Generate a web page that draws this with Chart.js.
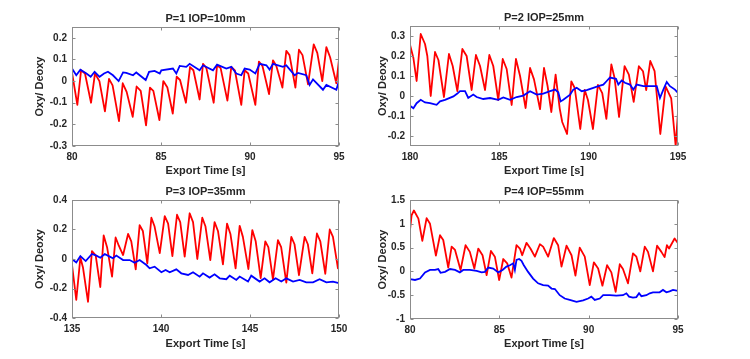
<!DOCTYPE html>
<html>
<head>
<meta charset="utf-8">
<script src="https://cdn.jsdelivr.net/npm/chart.js@4.4.0/dist/chart.umd.min.js"></script>
<style>
  html, body { margin: 0; padding: 0; background: #fff; }
  #wrap { position: relative; width: 750px; height: 359px; overflow: hidden; }
  canvas { position: absolute; }
</style>
</head>
<body>
<div id="wrap">
  <canvas id="c1" width="375" height="180" style="left:0;top:0"></canvas>
  <canvas id="c2" width="375" height="180" style="left:375px;top:0"></canvas>
  <canvas id="c3" width="375" height="179" style="left:0;top:180px"></canvas>
  <canvas id="c4" width="375" height="179" style="left:375px;top:180px"></canvas>
</div>
<script>
// [time s, value]
const p1Oxy = [[80.00,0.04],[80.30,-0.11],[80.51,0.05],[80.73,0.035],[81.07,-0.10],[81.29,0.035],[81.54,0.0],[81.85,-0.14],[82.08,0.01],[82.28,-0.02],[82.64,-0.185],[82.85,-0.01],[83.07,-0.05],[83.41,-0.165],[83.63,-0.025],[83.86,-0.045],[84.16,-0.205],[84.38,-0.03],[84.57,-0.045],[84.91,-0.18],[85.13,0.0],[85.36,-0.03],[85.66,-0.15],[85.88,0.02],[86.07,0.005],[86.40,-0.10],[86.63,0.065],[86.82,0.05],[87.17,-0.085],[87.36,0.08],[87.55,0.06],[87.96,-0.10],[88.15,0.073],[88.35,0.06],[88.73,-0.09],[88.95,0.066],[89.15,0.05],[89.51,-0.11],[89.70,0.05],[89.90,0.035],[90.30,-0.11],[90.50,0.09],[90.70,0.07],[91.07,-0.06],[91.29,0.096],[91.48,0.07],[91.82,-0.03],[92.04,0.14],[92.22,0.12],[92.55,-0.03],[92.75,0.145],[92.95,0.12],[93.26,-0.015],[93.58,0.17],[93.78,0.13],[94.06,0.0],[94.29,0.157],[94.50,0.11],[94.85,-0.01],[95.00,0.10]];
const p1Deoxy = [[80.00,0.058],[80.24,0.027],[80.47,0.053],[80.81,0.035],[81.05,0.02],[81.27,0.043],[81.55,0.02],[81.80,0.035],[82.02,0.043],[82.30,0.027],[82.62,0.0],[82.87,0.04],[83.05,0.038],[83.43,0.027],[83.61,0.04],[84.14,0.005],[84.33,0.043],[84.64,0.047],[84.93,0.035],[85.02,0.05],[85.67,0.058],[85.86,0.035],[86.05,0.07],[86.42,0.066],[86.61,0.08],[87.17,0.05],[87.36,0.073],[87.92,0.05],[88.15,0.076],[88.67,0.058],[88.95,0.066],[89.23,0.035],[89.51,0.027],[89.70,0.058],[89.98,0.053],[90.30,0.035],[90.54,0.08],[90.92,0.073],[91.10,0.053],[91.29,0.08],[91.85,0.066],[92.04,0.073],[92.51,0.027],[92.70,0.038],[93.16,0.027],[93.35,-0.018],[93.54,0.008],[94.10,-0.04],[94.29,-0.018],[94.85,-0.04],[95.00,0.0]];

const p2Oxy = [[180.00,0.256],[180.19,0.19],[180.37,0.075],[180.60,0.31],[180.84,0.26],[180.97,0.2],[181.16,0.0],[181.40,0.22],[181.59,0.18],[181.90,-0.005],[182.18,0.21],[182.39,0.15],[182.65,0.024],[182.93,0.235],[183.17,0.2],[183.45,0.03],[183.69,0.205],[183.92,0.15],[184.20,0.03],[184.44,0.205],[184.66,0.15],[184.94,-0.02],[185.19,0.185],[185.41,0.135],[185.69,-0.045],[185.93,0.185],[186.16,0.1],[186.47,-0.06],[186.72,0.14],[186.94,0.083],[187.28,-0.066],[187.50,0.14],[187.70,0.05],[187.91,-0.08],[188.15,0.107],[188.38,-0.063],[188.52,-0.13],[188.79,-0.19],[189.03,0.073],[189.22,0.04],[189.53,-0.165],[189.78,0.03],[189.96,-0.02],[190.24,-0.165],[190.52,0.056],[190.76,0.014],[190.99,-0.114],[191.27,0.158],[191.45,0.09],[191.70,-0.105],[192.01,0.149],[192.25,0.107],[192.52,-0.029],[192.81,0.149],[193.04,0.124],[193.22,0.03],[193.45,0.175],[193.69,0.124],[194.01,-0.19],[194.31,0.047],[194.62,-0.012],[194.87,-0.25],[195.00,-0.08]];
const p2Deoxy = [[180.00,-0.049],[180.19,-0.061],[180.37,-0.036],[180.60,-0.019],[180.84,-0.032],[181.12,-0.036],[181.49,-0.044],[181.68,-0.027],[181.96,-0.019],[182.43,-0.002],[182.65,0.012],[182.80,0.024],[183.08,0.024],[183.26,-0.01],[183.54,0.007],[183.73,-0.005],[184.10,-0.015],[184.48,-0.01],[184.94,-0.019],[185.22,-0.007],[185.60,-0.019],[185.97,-0.005],[186.34,0.002],[186.72,0.024],[187.09,0.007],[187.46,0.012],[187.84,0.024],[188.12,0.032],[188.30,0.019],[188.43,-0.027],[188.58,-0.019],[188.96,0.007],[189.14,0.032],[189.33,0.041],[189.61,0.024],[189.89,0.029],[190.26,0.041],[190.54,0.049],[190.82,0.057],[191.01,0.075],[191.19,0.092],[191.53,0.086],[191.66,0.057],[191.85,0.078],[192.03,0.066],[192.31,0.057],[192.50,0.032],[192.69,0.057],[193.06,0.049],[193.43,0.049],[193.81,0.049],[193.99,-0.01],[194.18,0.032],[194.37,0.07],[194.55,0.049],[194.83,0.032],[195.00,0.015]];

const p3Oxy = [[135.00,-0.04],[135.24,-0.277],[135.47,0.01],[135.62,-0.06],[135.90,-0.29],[136.12,0.054],[136.33,0.025],[136.59,-0.19],[136.78,0.16],[136.97,0.08],[137.25,-0.12],[137.45,0.146],[137.63,0.09],[137.87,0.027],[138.15,0.17],[138.33,0.12],[138.58,-0.07],[138.80,0.23],[138.98,0.19],[139.23,-0.03],[139.46,0.28],[139.64,0.22],[139.93,0.04],[140.21,0.29],[140.40,0.24],[140.64,0.02],[140.90,0.30],[141.08,0.25],[141.33,0.016],[141.61,0.31],[141.80,0.25],[142.04,0.0],[142.32,0.28],[142.50,0.22],[142.77,-0.007],[143.01,0.25],[143.20,0.19],[143.48,-0.036],[143.71,0.24],[143.90,0.17],[144.19,-0.063],[144.42,0.225],[144.60,0.15],[144.91,-0.068],[145.13,0.196],[145.32,0.12],[145.60,-0.13],[145.86,0.12],[146.03,0.08],[146.29,-0.14],[146.57,0.128],[146.75,0.08],[147.04,-0.16],[147.32,0.15],[147.50,0.10],[147.75,-0.11],[148.07,0.15],[148.25,0.10],[148.50,-0.097],[148.76,0.173],[148.95,0.12],[149.23,-0.10],[149.48,0.2],[149.66,0.15],[149.94,-0.063],[150.00,0.0]];
const p3Deoxy = [[135.00,0.0],[135.24,-0.023],[135.47,0.02],[135.77,-0.014],[136.12,0.034],[136.37,0.023],[136.59,0.009],[136.84,0.034],[137.12,0.016],[137.30,0.005],[137.49,0.023],[137.87,-0.007],[138.24,-0.007],[138.52,-0.025],[138.80,-0.007],[139.18,-0.041],[139.36,-0.063],[139.64,-0.052],[140.02,-0.09],[140.26,-0.074],[140.49,-0.09],[140.86,-0.07],[141.14,-0.097],[141.52,-0.108],[141.80,-0.09],[142.17,-0.12],[142.36,-0.097],[142.73,-0.126],[143.01,-0.104],[143.30,-0.131],[143.67,-0.137],[143.86,-0.113],[144.23,-0.142],[144.42,-0.119],[144.89,-0.153],[145.07,-0.113],[145.54,-0.153],[145.82,-0.131],[146.10,-0.158],[146.44,-0.131],[146.76,-0.153],[147.04,-0.131],[147.42,-0.153],[147.79,-0.142],[148.16,-0.158],[148.54,-0.158],[148.91,-0.137],[149.29,-0.158],[149.66,-0.153],[150.00,-0.164]];

const p4Oxy = [[80.00,0.87],[80.09,1.18],[80.22,1.28],[80.47,1.11],[80.69,0.64],[80.93,1.12],[81.12,1.0],[81.45,0.33],[81.68,0.76],[81.86,0.66],[82.14,0.08],[82.33,0.52],[82.52,0.45],[82.83,0.03],[83.11,0.55],[83.35,0.41],[83.60,0.06],[83.82,0.48],[84.06,0.34],[84.29,-0.08],[84.53,0.43],[84.75,0.31],[84.99,-0.18],[85.22,0.26],[85.44,0.17],[85.68,-0.13],[85.96,0.55],[86.15,0.48],[86.28,0.34],[86.52,0.6],[86.74,0.48],[86.99,0.31],[87.27,0.57],[87.45,0.52],[87.73,0.31],[88.05,0.7],[88.29,0.55],[88.48,0.1],[88.76,0.54],[89.04,0.34],[89.26,-0.09],[89.50,0.5],[89.78,0.31],[90.06,-0.29],[90.29,0.19],[90.53,0.06],[90.77,-0.3],[91.03,0.13],[91.27,-0.02],[91.51,-0.43],[91.74,0.15],[91.92,0.05],[92.20,-0.25],[92.48,0.38],[92.67,0.31],[92.89,0.0],[93.14,0.52],[93.32,0.41],[93.60,0.0],[93.83,0.54],[94.07,0.41],[94.25,0.3],[94.38,0.55],[94.50,0.48],[94.81,0.69],[95.00,0.59]];
const p4Deoxy = [[80.00,-0.16],[80.28,-0.18],[80.56,-0.15],[80.84,-0.02],[81.12,0.03],[81.40,0.03],[81.58,0.05],[81.71,-0.03],[81.96,-0.01],[82.24,0.05],[82.52,0.03],[82.79,-0.02],[82.98,0.03],[83.35,0.03],[83.73,0.01],[84.01,-0.02],[84.19,-0.01],[84.38,0.08],[84.66,0.06],[84.94,-0.02],[85.18,0.03],[85.40,0.1],[85.59,0.13],[85.78,0.17],[85.87,0.03],[85.96,0.24],[86.11,0.26],[86.24,0.22],[86.37,0.13],[86.61,-0.01],[86.89,-0.15],[87.17,-0.25],[87.45,-0.29],[87.73,-0.3],[87.92,-0.36],[88.11,-0.37],[88.38,-0.5],[88.66,-0.57],[88.94,-0.6],[89.32,-0.64],[89.69,-0.61],[89.97,-0.57],[90.15,-0.53],[90.34,-0.6],[90.62,-0.57],[90.81,-0.5],[91.18,-0.5],[91.55,-0.51],[91.92,-0.5],[92.11,-0.46],[92.26,-0.53],[92.48,-0.55],[92.67,-0.54],[92.82,-0.46],[92.95,-0.52],[93.23,-0.5],[93.42,-0.46],[93.60,-0.44],[93.97,-0.44],[94.16,-0.39],[94.35,-0.44],[94.53,-0.42],[94.72,-0.39],[95.00,-0.41]];

const titles = ['P=1 IOP=10mm', 'P=2 IOP=25mm', 'P=3 IOP=35mm', 'P=4 IOP=55mm'];
const p1XTicks = [80, 85, 90, 95];
const p2XTicks = [180, 185, 190, 195];
const p3XTicks = [135, 140, 145, 150];
const p4XTicks = [80, 85, 90, 95];
const p1YTicks = [-0.3, -0.2, -0.1, 0, 0.1, 0.2];
const p2YTicks = [-0.2, -0.1, 0, 0.1, 0.2, 0.3];
const p3YTicks = [-0.4, -0.2, 0, 0.2, 0.4];
const p4YTicks = [-1, -0.5, 0, 0.5, 1, 1.5];
const yLimits = [[-0.3, 0.25], [-0.25, 0.35], [-0.4, 0.4], [-1, 1.5]];

const FONT = '"Liberation Sans", Arial, Helvetica, sans-serif';
const TXT = '#262626';
const AXIS = '#8c8c8c';

// frame box, inward tick marks on all four sides and the panel title
const framePlugin = {
  id: 'frame',
  afterDatasetsDraw(chart, args, opts) {
    const { ctx, chartArea: a, scales } = chart;
    const L = Math.round(a.left) + 0.5, R = Math.round(a.right) - 0.5;
    const T = Math.round(a.top) + 0.5, B = Math.round(a.bottom) - 0.5;
    ctx.save();
    ctx.strokeStyle = AXIS;
    ctx.lineWidth = 1;
    ctx.beginPath();
    scales.x.ticks.forEach((t) => {
      const px = Math.round(scales.x.getPixelForValue(t.value)) + 0.5;
      ctx.moveTo(px, B); ctx.lineTo(px, B - 3);
      ctx.moveTo(px, T); ctx.lineTo(px, T + 3);
    });
    scales.y.ticks.forEach((t) => {
      const py = Math.round(scales.y.getPixelForValue(t.value)) + 0.5;
      ctx.moveTo(L, py); ctx.lineTo(L + 3, py);
      ctx.moveTo(R, py); ctx.lineTo(R - 3, py);
    });
    ctx.stroke();
    ctx.strokeRect(L, T, R - L, B - T);
    ctx.fillStyle = TXT;
    ctx.font = 'bold 11px ' + FONT;
    ctx.textAlign = 'center';
    ctx.textBaseline = 'middle';
    ctx.fillText(opts.text, (a.left + a.right) / 2, a.top - 8.5);
    ctx.restore();
  },
};

function fmt(v) {
  return String(Number(v.toFixed(2)));
}

function makePanel(id, title, oxy, deoxy, xTicks, yTicks, yLim, g) {
  const ctx = document.getElementById(id).getContext('2d');
  new Chart(ctx, {
    type: 'line',
    data: {
      datasets: [
        {
          label: 'Deoxy',
          data: deoxy.map((p) => ({ x: p[0], y: p[1] })),
          borderColor: '#0000ff',
          borderWidth: 1.8,
          pointRadius: 0,
          tension: 0,
          order: 0,
        },
        {
          label: 'Oxy',
          data: oxy.map((p) => ({ x: p[0], y: p[1] })),
          borderColor: '#ff0000',
          borderWidth: 1.8,
          pointRadius: 0,
          tension: 0,
          borderJoinStyle: 'round',
          order: 1,
        },
      ],
    },
    options: {
      responsive: false,
      animation: false,
      events: [],
      layout: { padding: { left: 0, top: g.top, right: g.right, bottom: 0 } },
      plugins: {
        legend: { display: false },
        tooltip: { enabled: false },
        frame: { text: title },
      },
      scales: {
        x: {
          type: 'linear',
          min: xTicks[0],
          max: xTicks[xTicks.length - 1],
          afterBuildTicks: (s) => { s.ticks = xTicks.map((v) => ({ value: v })); },
          afterFit: (s) => { s.height = g.xh; },
          grid: { display: false, drawTicks: false },
          border: { display: false },
          ticks: { autoSkip: false, maxRotation: 0, padding: 5, color: TXT, font: { family: FONT, size: 10, weight: 'bold' } },
          title: { display: true, text: 'Export Time [s]', color: TXT, padding: { top: 0, bottom: g.xtp }, font: { family: FONT, size: 11, weight: 'bold' } },
        },
        y: {
          min: yLim[0],
          max: yLim[1],
          afterBuildTicks: (s) => { s.ticks = yTicks.map((v) => ({ value: v })); },
          afterFit: (s) => { s.width = g.yw; },
          grid: { display: false, drawTicks: false },
          border: { display: false },
          ticks: { autoSkip: false, padding: 5, color: TXT, font: { family: FONT, size: 10, weight: 'bold' }, callback: (v) => fmt(v) },
          title: { display: true, text: 'Oxy/ Deoxy', color: TXT, padding: { top: g.ytp, bottom: 0 }, font: { family: FONT, size: 11, weight: 'bold' } },
        },
      },
    },
    plugins: [framePlugin],
  });
}

makePanel('c1', titles[0], p1Oxy, p1Deoxy, p1XTicks, p1YTicks, yLimits[0], { top: 27, right: 36, yw: 72, xh: 34, ytp: 33, xtp: 2.4 });
makePanel('c2', titles[1], p2Oxy, p2Deoxy, p2XTicks, p2YTicks, yLimits[1], { top: 26, right: 72, yw: 35, xh: 34, ytp: 1.5, xtp: 2.4 });
makePanel('c3', titles[2], p3Oxy, p3Deoxy, p3XTicks, p3YTicks, yLimits[2], { top: 20, right: 36, yw: 72, xh: 41, ytp: 33, xtp: 8.4 });
makePanel('c4', titles[3], p4Oxy, p4Deoxy, p4XTicks, p4YTicks, yLimits[3], { top: 20, right: 72, yw: 35, xh: 40, ytp: 1.5, xtp: 8.4 });
</script>
</body>
</html>
